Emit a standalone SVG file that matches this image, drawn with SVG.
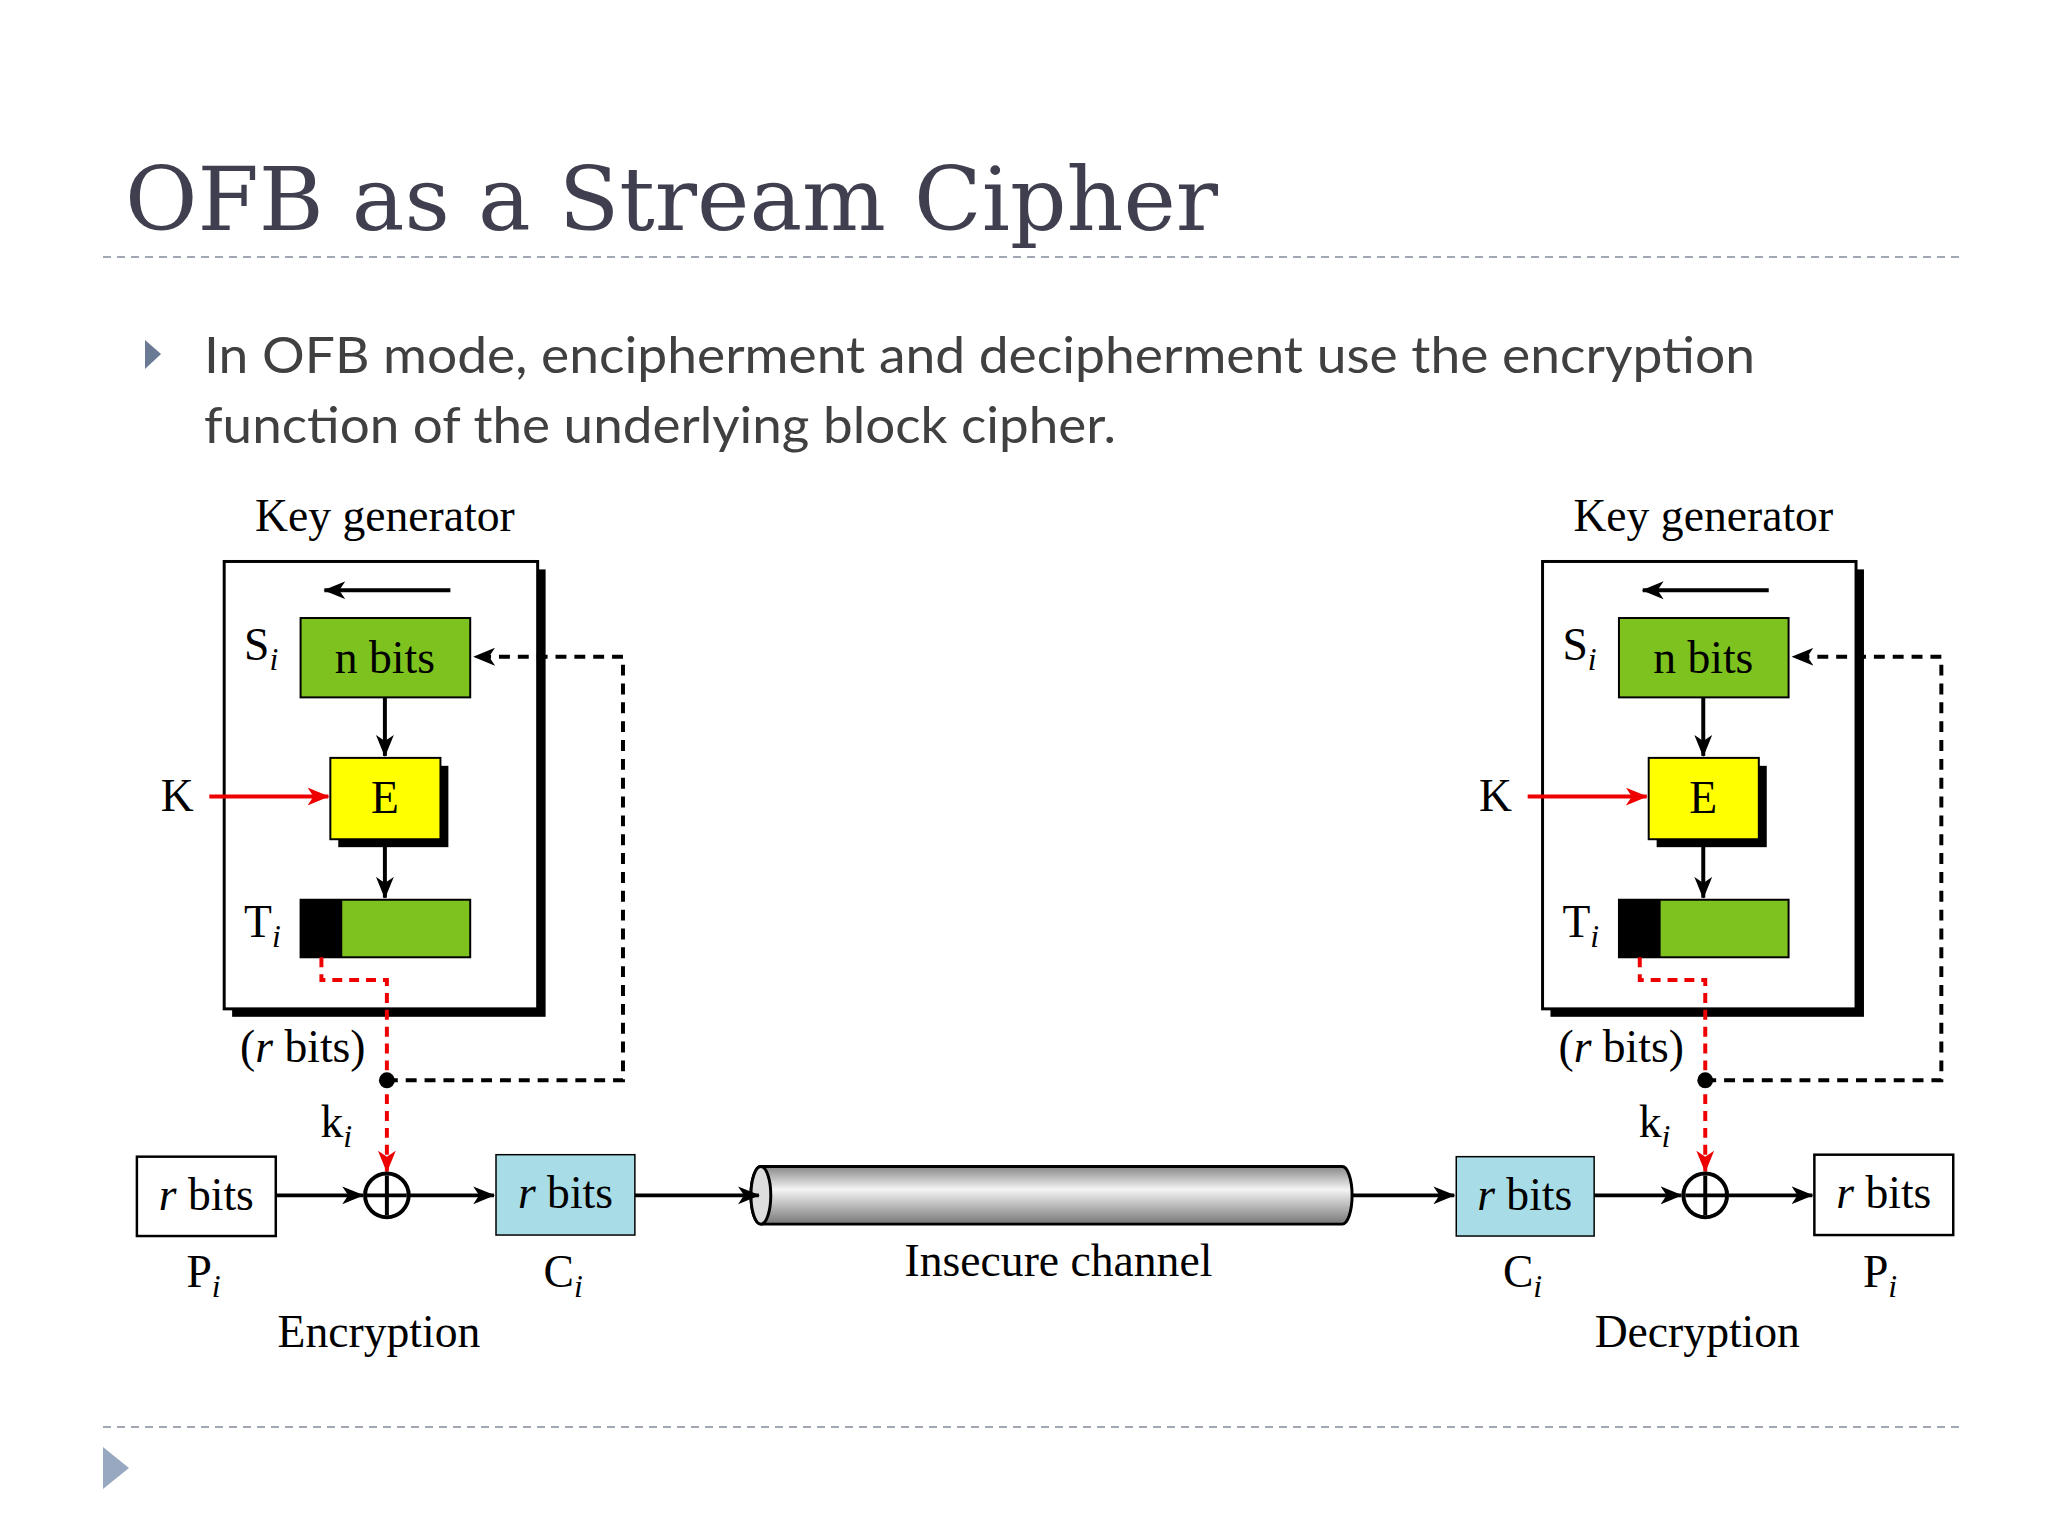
<svg xmlns="http://www.w3.org/2000/svg" width="2048" height="1536" viewBox="0 0 2048 1536">
<style>
.t{font-family:"Liberation Serif",serif;fill:#000}
.lbl{font-size:46px}
.k{stroke:#000;stroke-width:4;fill:none}
.r{stroke:#e00;stroke-width:4;fill:none}
.dash{stroke-dasharray:11,8}
.rdash{stroke-dasharray:10,7}
</style>
<defs>
<marker id="ab" markerWidth="24" markerHeight="24" refX="21" refY="11" orient="auto" markerUnits="userSpaceOnUse"><path d="M0,2 L22,11 L0,20 L6,11 z" fill="#000"/></marker>
<marker id="ar" markerWidth="24" markerHeight="24" refX="21" refY="11" orient="auto" markerUnits="userSpaceOnUse"><path d="M0,2 L22,11 L0,20 L6,11 z" fill="#e00"/></marker>
<linearGradient id="cyl" x1="0" y1="0" x2="0" y2="1"><stop offset="0" stop-color="#888"/><stop offset="0.4" stop-color="#f4f4f4"/><stop offset="1" stop-color="#777"/></linearGradient>
</defs>
<rect width="2048" height="1536" fill="#fff"/>
<text x="125" y="230" font-family="DejaVu Serif,serif" font-size="88" fill="#3f3f4f" textLength="1093" lengthAdjust="spacingAndGlyphs">OFB as a Stream Cipher</text>
<line x1="103" y1="257" x2="1962" y2="257" stroke="#a0a8b4" stroke-width="2" stroke-dasharray="8,6"/>
<path d="M145,340 L161,354 L145,369 z" fill="#6a7a94"/>
<text font-family="Lato,sans-serif" font-size="50" fill="#404040"><tspan x="204" y="373" textLength="1551" lengthAdjust="spacingAndGlyphs">In OFB mode, encipherment and decipherment use the encryption</tspan><tspan x="204" y="443" textLength="912" lengthAdjust="spacingAndGlyphs">function of the underlying block cipher.</tspan></text>
<line x1="103" y1="1433" x2="1962" y2="1433" stroke="#a0a8b4" stroke-width="2" stroke-dasharray="8,6" transform="translate(0,-6)"/>
<path d="M103,1447 L129,1468 L103,1489 z" fill="#98a8c0"/>

<g transform="scale(0.992)">
<g id="keygen-enc">
<text class="t lbl" x="388" y="535" text-anchor="middle">Key generator</text>
<rect x="234" y="574" width="316" height="451" fill="#000"/>
<rect x="226" y="566" width="316" height="451" fill="#fff" stroke="#000" stroke-width="3"/>
<line class="k" x1="454" y1="595" x2="327" y2="595" marker-end="url(#ab)"/>
<text class="t lbl" x="246" y="665">S<tspan font-style="italic" font-size="32" dy="10">i</tspan></text>
<rect x="303" y="623" width="171" height="80" fill="#7dc21e" stroke="#000" stroke-width="2"/>
<text class="t lbl" x="388" y="678" text-anchor="middle">n bits</text>
<line class="k" x1="388" y1="703" x2="388" y2="762" marker-end="url(#ab)"/>
<rect x="341" y="772" width="111" height="82" fill="#000"/>
<rect x="333" y="764" width="111" height="82" fill="#ff0" stroke="#000" stroke-width="2"/>
<text class="t lbl" x="388" y="820" text-anchor="middle">E</text>
<text class="t lbl" x="162" y="818">K</text>
<line class="r" x1="211" y1="803" x2="331" y2="803" marker-end="url(#ar)"/>
<line class="k" x1="388" y1="846" x2="388" y2="905" marker-end="url(#ab)"/>
<text class="t lbl" x="246" y="945">T<tspan font-style="italic" font-size="32" dy="10">i</tspan></text>
<rect x="303" y="907" width="171" height="58" fill="#7dc21e" stroke="#000" stroke-width="2"/>
<rect x="303" y="907" width="42" height="58" fill="#000"/>
<polyline class="r rdash" points="324,965 324,988 390,988 390,1181" marker-end="url(#ar)"/>
<text class="t lbl" x="242" y="1071">(<tspan font-style="italic">r</tspan> bits)</text>
<circle cx="390" cy="1089" r="8" fill="#000"/>
<polyline class="k dash" points="390,1089 628,1089 628,662 478,662" marker-end="url(#ab)"/>
<text class="t lbl" x="323" y="1146">k<tspan font-style="italic" font-size="32" dy="10">i</tspan></text>
<circle cx="390" cy="1205" r="22" fill="#fff" stroke="#000" stroke-width="4"/>
<path class="k" d="M390,1185 V1225 M370,1205 H410"/>
</g>

<g id="keygen-dec" transform="translate(1329,0)">
<text class="t lbl" x="388" y="535" text-anchor="middle">Key generator</text>
<rect x="234" y="574" width="316" height="451" fill="#000"/>
<rect x="226" y="566" width="316" height="451" fill="#fff" stroke="#000" stroke-width="3"/>
<line class="k" x1="454" y1="595" x2="327" y2="595" marker-end="url(#ab)"/>
<text class="t lbl" x="246" y="665">S<tspan font-style="italic" font-size="32" dy="10">i</tspan></text>
<rect x="303" y="623" width="171" height="80" fill="#7dc21e" stroke="#000" stroke-width="2"/>
<text class="t lbl" x="388" y="678" text-anchor="middle">n bits</text>
<line class="k" x1="388" y1="703" x2="388" y2="762" marker-end="url(#ab)"/>
<rect x="341" y="772" width="111" height="82" fill="#000"/>
<rect x="333" y="764" width="111" height="82" fill="#ff0" stroke="#000" stroke-width="2"/>
<text class="t lbl" x="388" y="820" text-anchor="middle">E</text>
<text class="t lbl" x="162" y="818">K</text>
<line class="r" x1="211" y1="803" x2="331" y2="803" marker-end="url(#ar)"/>
<line class="k" x1="388" y1="846" x2="388" y2="905" marker-end="url(#ab)"/>
<text class="t lbl" x="246" y="945">T<tspan font-style="italic" font-size="32" dy="10">i</tspan></text>
<rect x="303" y="907" width="171" height="58" fill="#7dc21e" stroke="#000" stroke-width="2"/>
<rect x="303" y="907" width="42" height="58" fill="#000"/>
<polyline class="r rdash" points="324,965 324,988 390,988 390,1181" marker-end="url(#ar)"/>
<text class="t lbl" x="242" y="1071">(<tspan font-style="italic">r</tspan> bits)</text>
<circle cx="390" cy="1089" r="8" fill="#000"/>
<polyline class="k dash" points="390,1089 628,1089 628,662 478,662" marker-end="url(#ab)"/>
<text class="t lbl" x="323" y="1146">k<tspan font-style="italic" font-size="32" dy="10">i</tspan></text>
<circle cx="390" cy="1205" r="22" fill="#fff" stroke="#000" stroke-width="4"/>
<path class="k" d="M390,1185 V1225 M370,1205 H410"/>
</g>

<g id="p-enc">
<rect x="138" y="1166" width="140" height="80" fill="#fff" stroke="#000" stroke-width="2.5"/>
<text class="t lbl" x="208" y="1220" text-anchor="middle"><tspan font-style="italic">r</tspan> bits</text>
<text class="t lbl" x="188" y="1297">P<tspan font-style="italic" font-size="32" dy="10">i</tspan></text>
</g>
<g id="c-enc">
<rect x="500" y="1164" width="140" height="81" fill="#a8dde8" stroke="#000" stroke-width="1.5"/>
<text class="t lbl" x="570" y="1218" text-anchor="middle"><tspan font-style="italic">r</tspan> bits</text>
<text class="t lbl" x="548" y="1297">C<tspan font-style="italic" font-size="32" dy="10">i</tspan></text>
</g>
<text class="t lbl" x="382" y="1358" text-anchor="middle">Encryption</text>
<g id="channel">
<path d="M767,1176 H1353 A10,29 0 0 1 1353,1234 H767 A10,29 0 0 1 767,1176 z" fill="url(#cyl)" stroke="#000" stroke-width="3"/>
<ellipse cx="767" cy="1205" rx="10" ry="29" fill="#ddd" stroke="#000" stroke-width="3"/>
<text class="t lbl" x="1067" y="1286" text-anchor="middle">Insecure channel</text>
</g>
<g id="c-dec">
<rect x="1468" y="1166" width="139" height="80" fill="#a8dde8" stroke="#000" stroke-width="1.5"/>
<text class="t lbl" x="1537" y="1220" text-anchor="middle"><tspan font-style="italic">r</tspan> bits</text>
<text class="t lbl" x="1515" y="1297">C<tspan font-style="italic" font-size="32" dy="10">i</tspan></text>
</g>
<g id="p-dec">
<rect x="1829" y="1164" width="140" height="81" fill="#fff" stroke="#000" stroke-width="2.5"/>
<text class="t lbl" x="1899" y="1218" text-anchor="middle"><tspan font-style="italic">r</tspan> bits</text>
<text class="t lbl" x="1878" y="1297">P<tspan font-style="italic" font-size="32" dy="10">i</tspan></text>
</g>
<text class="t lbl" x="1711" y="1358" text-anchor="middle">Decryption</text>
<g id="connectors">
<line class="k" x1="278" y1="1205" x2="366" y2="1205" marker-end="url(#ab)"/>
<line class="k" x1="412" y1="1205" x2="498" y2="1205" marker-end="url(#ab)"/>
<line class="k" x1="640" y1="1205" x2="765" y2="1205" marker-end="url(#ab)"/>
<line class="k" x1="1363" y1="1205" x2="1466" y2="1205" marker-end="url(#ab)"/>
<line class="k" x1="1607" y1="1205" x2="1695" y2="1205" marker-end="url(#ab)"/>
<line class="k" x1="1741" y1="1205" x2="1827" y2="1205" marker-end="url(#ab)"/>
</g>
</g>
</svg>
